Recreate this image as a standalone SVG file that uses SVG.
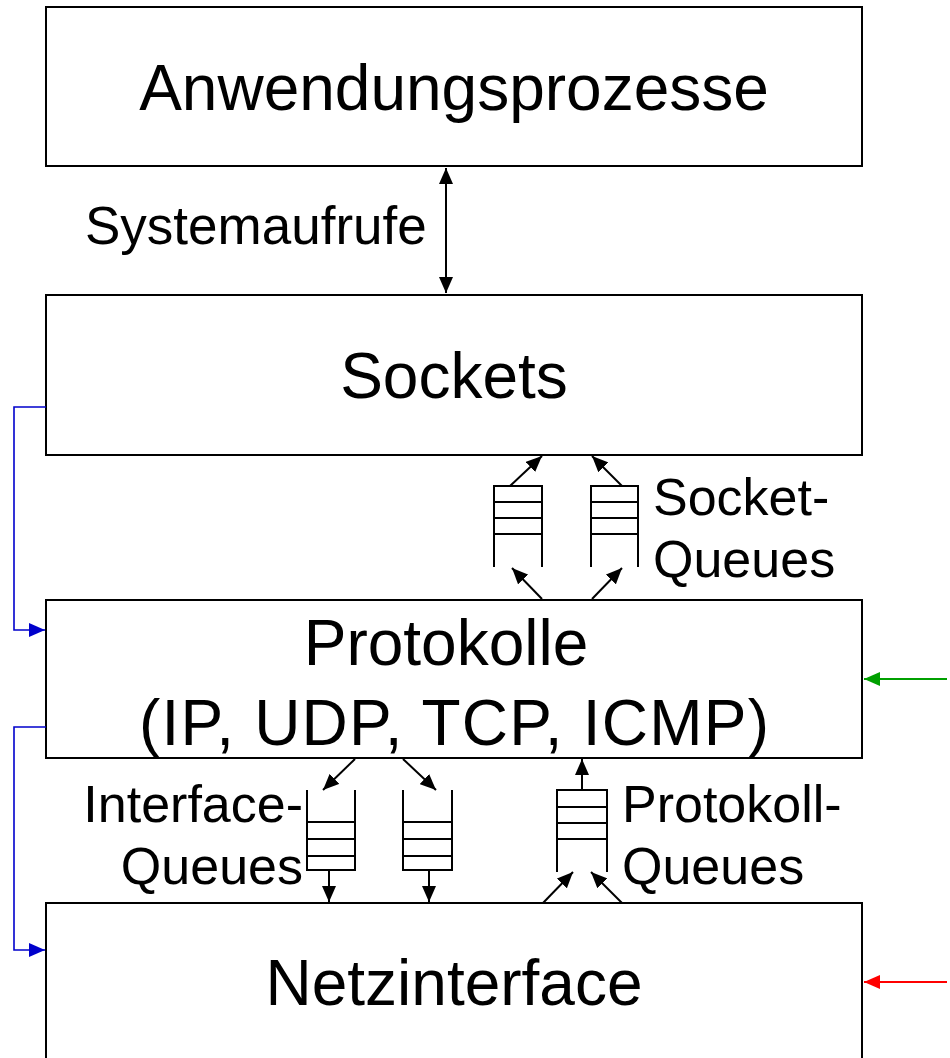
<svg xmlns="http://www.w3.org/2000/svg" width="950" height="1058" viewBox="0 0 950 1058">
<style>
.box{fill:#fff;stroke:#000;stroke-width:2}
.big{font-family:"Liberation Sans",Arial,sans-serif;font-size:64px;fill:#000;text-anchor:middle}
.lbl{font-family:"Liberation Sans",Arial,sans-serif;font-size:52px;fill:#000}
.q{fill:none;stroke:#000;stroke-width:2}
.a{fill:none;stroke:#000;stroke-width:2;marker-end:url(#ah)}
.blue{fill:none;stroke:#0000cc;stroke-width:1.6;marker-end:url(#bh)}
.green{fill:none;stroke:#00a000;stroke-width:2;marker-end:url(#gh)}
.red{fill:none;stroke:#ff0000;stroke-width:2;marker-end:url(#rh)}
</style>
<defs>
<marker id="ah" markerUnits="userSpaceOnUse" markerWidth="16" markerHeight="14" refX="16" refY="7" orient="auto"><path d="M0,0 L16,7 L0,14 Z" fill="#000"/></marker>
<marker id="as" markerUnits="userSpaceOnUse" markerWidth="16" markerHeight="14" refX="16" refY="7" orient="auto-start-reverse"><path d="M0,0 L16,7 L0,14 Z" fill="#000"/></marker>
<marker id="bh" markerUnits="userSpaceOnUse" markerWidth="16" markerHeight="14" refX="16" refY="7" orient="auto"><path d="M0,0 L16,7 L0,14 Z" fill="#0000cc"/></marker>
<marker id="gh" markerUnits="userSpaceOnUse" markerWidth="16" markerHeight="14" refX="16" refY="7" orient="auto"><path d="M0,0 L16,7 L0,14 Z" fill="#00a000"/></marker>
<marker id="rh" markerUnits="userSpaceOnUse" markerWidth="16" markerHeight="14" refX="16" refY="7" orient="auto"><path d="M0,0 L16,7 L0,14 Z" fill="#ff0000"/></marker>
</defs>

<g id="anwendungsprozesse">
<rect class="box" x="46" y="7" width="816" height="159"/>
<text class="big" x="454" y="110">Anwendungsprozesse</text>
</g>
<g id="sockets">
<rect class="box" x="46" y="295" width="816" height="160"/>
<text class="big" x="454" y="398">Sockets</text>
</g>
<g id="protokolle">
<rect class="box" x="46" y="600" width="816" height="158"/>
<text class="big" x="446" y="665">Protokolle</text>
<text class="big" x="454" y="745" textLength="630" lengthAdjust="spacing">(IP, UDP, TCP, ICMP)</text>
</g>
<g id="netzinterface">
<rect class="box" x="46" y="903" width="816" height="170"/>
<text class="big" x="454" y="1005">Netzinterface</text>
</g>

<g id="labels">
<text class="lbl" x="85" y="244" style="font-size:53px">Systemaufrufe</text>
<text class="lbl" x="653" y="515">Socket-</text>
<text class="lbl" x="653" y="577">Queues</text>
<text class="lbl" x="303" y="822" text-anchor="end">Interface-</text>
<text class="lbl" x="303" y="884" text-anchor="end">Queues</text>
<text class="lbl" x="622" y="822">Protokoll-</text>
<text class="lbl" x="622" y="884">Queues</text>
</g>

<g id="socket-queues">
<path class="q" d="M494,567 V486 H542 V567 M494,502 H542 M494,518 H542 M494,534 H542"/>
<path class="q" d="M591,567 V486 H638 V567 M591,502 H638 M591,518 H638 M591,534 H638"/>
</g>
<g id="interface-queues">
<path class="q" d="M307,790 V870 H355 V790 M307,822 H355 M307,839 H355 M307,856 H355"/>
<path class="q" d="M403,790 V870 H452 V790 M403,822 H452 M403,839 H452 M403,856 H452"/>
</g>
<g id="protokoll-queue">
<path class="q" d="M557,872 V790 H607 V872 M557,807 H607 M557,823 H607 M557,839 H607"/>
</g>

<g id="connectors">
<line x1="446" y1="168" x2="446" y2="293" stroke="#000" stroke-width="2" marker-start="url(#as)" marker-end="url(#ah)"/>
<line class="a" x1="510" y1="486" x2="542" y2="456"/>
<line class="a" x1="622" y1="486" x2="592" y2="456"/>
<line class="a" x1="542" y1="599" x2="512" y2="568"/>
<line class="a" x1="592" y1="599" x2="622" y2="568"/>
<line class="a" x1="355" y1="759" x2="323" y2="790"/>
<line class="a" x1="403" y1="759" x2="436" y2="790"/>
<line class="a" x1="329" y1="870" x2="329" y2="902"/>
<line class="a" x1="429" y1="870" x2="429" y2="902"/>
<line class="a" x1="582" y1="790" x2="582" y2="759"/>
<line class="a" x1="543" y1="903" x2="573" y2="872"/>
<line class="a" x1="622" y1="903" x2="591" y2="872"/>
<path class="blue" d="M46,407 H14 V630 H45"/>
<path class="blue" d="M46,727 H14 V950 H45"/>
<line class="green" x1="947" y1="679" x2="864" y2="679"/>
<line class="red" x1="947" y1="982" x2="864" y2="982"/>
</g>
</svg>
